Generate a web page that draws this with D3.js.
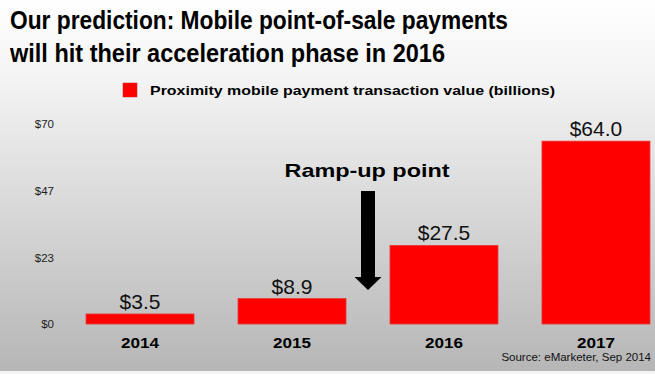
<!DOCTYPE html>
<html>
<head>
<meta charset="utf-8">
<script src="https://cdn.jsdelivr.net/npm/d3@7"></script>
<style>
  body { margin: 0; padding: 0; overflow: hidden; }
  svg { display: block; font-family: "Liberation Sans", Arial, sans-serif; }
</style>
</head>
<body>
<script>
// data
var years = ["2014", "2015", "2016", "2017"];
var values = [3.5, 8.9, 27.5, 64.0];
var valueLabels = ["$3.5", "$8.9", "$27.5", "$64.0"];
var tickValues = [0, 23.33, 46.67, 70];
var tickLabels = ["$0", "$23", "$47", "$70"];

var width = 655, height = 374;

var svg = d3.select("body").append("svg")
  .attr("width", width)
  .attr("height", height);

// background gradient, white top to grey bottom
var defs = svg.append("defs");
var grad = defs.append("linearGradient")
  .attr("id", "bg")
  .attr("x1", 0).attr("y1", 0).attr("x2", 0).attr("y2", 1);
grad.append("stop").attr("offset", "0%").attr("stop-color", "#ffffff");
grad.append("stop").attr("offset", "22%").attr("stop-color", "#f3f3f3");
grad.append("stop").attr("offset", "100%").attr("stop-color", "#b6b6b6");

svg.append("rect")
  .attr("width", width).attr("height", 371)
  .attr("fill", "url(#bg)");
svg.append("rect")
  .attr("y", 371).attr("width", width).attr("height", 3)
  .attr("fill", "#f4f4f4");

// title
var title = svg.append("g");
title.append("text")
  .attr("x", 10).attr("y", 29)
  .attr("font-size", 26).attr("font-weight", "bold")
  .attr("textLength", 498).attr("lengthAdjust", "spacingAndGlyphs")
  .attr("fill", "#000")
  .text("Our prediction: Mobile point-of-sale payments");
title.append("text")
  .attr("x", 10).attr("y", 62)
  .attr("font-size", 26).attr("font-weight", "bold")
  .attr("textLength", 435).attr("lengthAdjust", "spacingAndGlyphs")
  .attr("fill", "#000")
  .text("will hit their acceleration phase in 2016");

// legend
svg.append("rect")
  .attr("x", 123).attr("y", 83).attr("width", 14).attr("height", 14)
  .attr("fill", "#ff0000").attr("stroke", "#e02020").attr("stroke-width", 0.5);
svg.append("text")
  .attr("x", 150).attr("y", 95)
  .attr("font-size", 13.5).attr("font-weight", "bold")
  .attr("textLength", 405).attr("lengthAdjust", "spacingAndGlyphs")
  .text("Proximity mobile payment transaction value (billions)");

// scales
var x = d3.scaleBand()
  .domain(years)
  .range([64, 672])
  .paddingInner(0.2895)
  .paddingOuter(0.145);

var y = d3.scaleLinear()
  .domain([0, 70])
  .range([324, 124]);

// y axis labels
var yAxis = d3.axisLeft(y)
  .tickValues(tickValues)
  .tickSize(0)
  .tickPadding(0)
  .tickFormat(function(d, i) { return tickLabels[i]; });

var yg = svg.append("g")
  .attr("transform", "translate(54,0)")
  .call(yAxis);
yg.select(".domain").remove();
yg.selectAll("text")
  .attr("font-family", "Liberation Sans, Arial, sans-serif")
  .attr("font-size", 11.5)
  .attr("fill", "#222");

// bars
svg.selectAll(".bar")
  .data(values)
  .enter().append("rect")
  .attr("class", "bar")
  .attr("x", function(d, i) { return x(years[i]); })
  .attr("y", function(d) { return y(d); })
  .attr("width", x.bandwidth())
  .attr("height", function(d) { return y(0) - y(d); })
  .attr("fill", "#ff0000")
  .attr("stroke", "#e33")
  .attr("stroke-width", 0.8);

// value labels
svg.selectAll(".vlabel")
  .data(values)
  .enter().append("text")
  .attr("class", "vlabel")
  .attr("x", function(d, i) { return x(years[i]) + x.bandwidth() / 2; })
  .attr("y", function(d) { return y(d) - 5; })
  .attr("text-anchor", "middle")
  .attr("font-size", 21)
  .attr("fill", "#111")
  .text(function(d, i) { return valueLabels[i]; });

// x axis labels
var xAxis = d3.axisBottom(x).tickSize(0).tickPadding(0);
var xg = svg.append("g")
  .attr("transform", "translate(0,338)")
  .call(xAxis);
xg.select(".domain").remove();
xg.selectAll("text")
  .attr("font-family", "Liberation Sans, Arial, sans-serif")
  .attr("font-size", 14.5)
  .attr("font-weight", "bold")
  .attr("fill", "#000")
  .attr("dy", "0.71em")
  .attr("textLength", 38)
  .attr("lengthAdjust", "spacingAndGlyphs");

// ramp-up annotation
svg.append("text")
  .attr("x", 367).attr("y", 177)
  .attr("text-anchor", "middle")
  .attr("font-size", 19).attr("font-weight", "bold")
  .attr("textLength", 165).attr("lengthAdjust", "spacingAndGlyphs")
  .text("Ramp-up point");

var arrowX = 368;
svg.append("path")
  .attr("d", d3.line()([
    [arrowX - 7, 191], [arrowX + 7, 191], [arrowX + 7, 277],
    [arrowX + 13.5, 277], [arrowX, 290], [arrowX - 13.5, 277],
    [arrowX - 7, 277]
  ]) + "Z")
  .attr("fill", "#000");

// source
svg.append("text")
  .attr("x", 651).attr("y", 361)
  .attr("text-anchor", "end")
  .attr("font-size", 11.5)
  .attr("fill", "#111")
  .text("Source: eMarketer, Sep 2014");
</script>
</body>
</html>
